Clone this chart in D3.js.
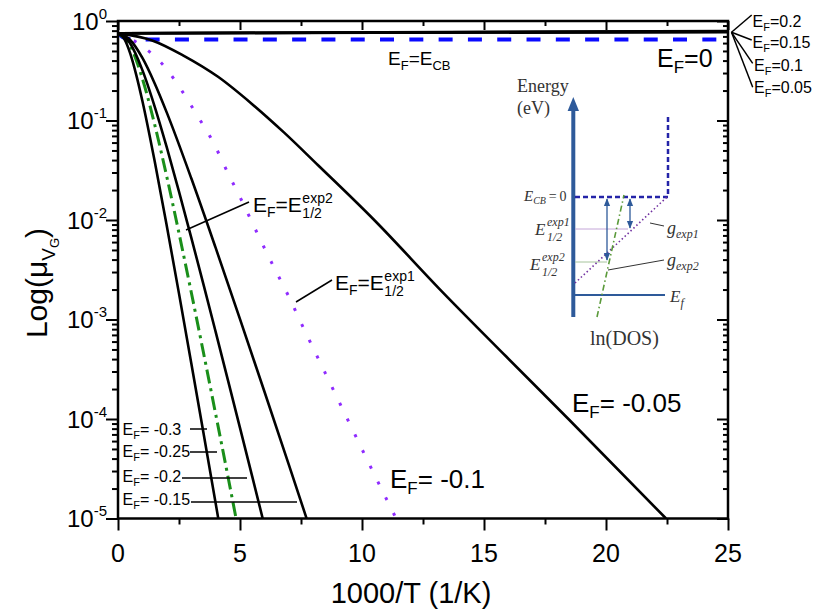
<!DOCTYPE html>
<html><head><meta charset="utf-8">
<script src="https://cdn.jsdelivr.net/npm/d3@7/dist/d3.min.js"></script>
<style>
body{margin:0;background:#fff;}
svg{display:block;font-family:"Liberation Sans",Arial,sans-serif;}
</style>
</head><body>
<svg id="c" width="813" height="614"></svg>
<script>
// ---------- data ----------
const xTickValues = [0, 5, 10, 15, 20, 25];
const xMinorTicks = [2.5, 7.5, 12.5, 17.5, 22.5];
const yTickExponents = [0, -1, -2, -3, -4, -5];

// E_F > 0 : nearly flat
const xFlat = [0, 25];
const muEfPos020 = [0.752, 0.795];
const muEfPos015 = [0.752, 0.787];
const muEfPos010 = [0.752, 0.779];
const muEfPos005 = [0.752, 0.771];

// E_F = E_CB = 0 (blue dashed)
const xEf0 = [0, 0.3, 0.8, 25];
const muEf0 = [0.752, 0.67, 0.65, 0.65];

// E_F = -0.05
const xEfm005 = [0, 1.4, 2.7, 4.1, 5.5, 6.8, 8.2, 10.5, 13.2, 15.9, 18.5, 22.46];
const muEfm005 = [0.752, 0.638, 0.447, 0.275, 0.146, 0.0759, 0.0355, 0.0100, 0.0020, 0.000427, 0.0000977, 0.00001];

// E_F = -0.1 = E_1/2^exp1 (purple dotted)
const xEfm010 = [0, 0.82, 1.91, 2.6, 3.24, 3.89, 4.51, 5.12, 5.74, 6.38, 7.04, 7.65, 8.5, 9.5, 10.53, 11.4];
const muEfm010 = [0.752, 0.597, 0.347, 0.202, 0.113, 0.0611, 0.0295, 0.0148, 0.00708, 0.00339, 0.00162, 0.000776, 0.000288, 0.0000891, 0.0000269, 0.00001];

// E_F = -0.15
const xEfm015 = [0, 0.5, 1, 1.5, 2, 3, 4, 5, 6, 7, 7.73];
const muEfm015 = [0.752, 0.644, 0.425, 0.237, 0.12, 0.0264, 0.00527, 0.00101, 0.000189, 0.0000348, 0.00001];

// E_F = -0.2
const xEfm020 = [0, 0.5, 1, 1.5, 2, 2.5, 3, 3.5, 4, 4.5, 5, 5.5, 5.93];
const muEfm020 = [0.752, 0.594, 0.321, 0.139, 0.0536, 0.0193, 0.0067, 0.00227, 0.000755, 0.000249, 0.0000815, 0.0000265, 0.00001];

// E_F = -0.25 = E_1/2^exp2 (green dash-dot)
const xEfm025 = [0, 0.5, 1, 1.5, 2, 2.5, 3, 3.5, 4, 4.5, 4.84];
const muEfm025 = [0.752, 0.564, 0.263, 0.0918, 0.0272, 0.00736, 0.00189, 0.000468, 0.000113, 0.0000269, 0.00001];

// E_F = -0.3
const xEfm030 = [0, 0.25, 0.5, 0.75, 1, 1.5, 2, 2.5, 3, 3.5, 4.11];
const muEfm030 = [0.752, 0.664, 0.472, 0.286, 0.157, 0.0393, 0.00871, 0.00182, 0.000368, 0.0000731, 0.00001];

const topRightLabels = ["0.2", "0.15", "0.1", "0.05"];
const bottomLeftLabels = ["-0.3", "-0.25", "-0.2", "-0.15"];

// ---------- layout ----------
const L = 118, R = 728, T = 21, B = 518.5;
const svg = d3.select("#c");
const x = d3.scaleLinear().domain([0, 25]).range([L, R]);
const y = d3.scaleLog().domain([1e-5, 1]).range([B, T]);

svg.append("defs").append("clipPath").attr("id", "clip")
  .append("rect").attr("x", L).attr("y", T).attr("width", R - L).attr("height", B - T);

const pairs = (xs, ys) => xs.map((v, i) => [v, ys[i]]);
const line = d3.line().x(d => x(d[0])).y(d => y(d[1])).curve(d3.curveMonotoneX);
const lineLin = d3.line().x(d => x(d[0])).y(d => y(d[1]));

const plot = svg.append("g").attr("clip-path", "url(#clip)");

function draw(xs, ys, opts, gen) {
  plot.append("path").attr("d", (gen || line)(pairs(xs, ys)))
    .attr("fill", "none").attr("stroke", opts.c).attr("stroke-width", opts.w)
    .attr("stroke-dasharray", opts.dash || null)
    .attr("stroke-linecap", opts.cap || "butt");
}

draw(xEf0, muEf0, {c: "#0a0aff", w: 4, dash: "14 15.3"});
draw(xEfm010, muEfm010, {c: "#8f2bff", w: 3, dash: "3 14.5"});
draw(xEfm025, muEfm025, {c: "#1a8f1a", w: 3, dash: "14 5 3 5"});
draw(xEfm005, muEfm005, {c: "#000", w: 2.6});
draw(xEfm015, muEfm015, {c: "#000", w: 2.6});
draw(xEfm020, muEfm020, {c: "#000", w: 2.6});
draw(xEfm030, muEfm030, {c: "#000", w: 2.6});
[muEfPos020, muEfPos015, muEfPos010, muEfPos005].forEach(m => draw(xFlat, m, {c: "#000", w: 2.5}, lineLin));

// ---------- axes ----------
function styleAxis(g) {
  g.select(".domain").remove();
  g.selectAll(".tick line").attr("stroke", "#000").attr("stroke-width", 2);
  g.selectAll(".tick text").remove();
}
const yMinor = [];
for (let e = -5; e < 0; e++) for (let k = 2; k <= 9; k++) yMinor.push(k * Math.pow(10, e));

svg.append("g").attr("transform", `translate(0,${B})`).call(d3.axisBottom(x).tickValues(xTickValues).tickSize(12)).call(styleAxis);
svg.append("g").attr("transform", `translate(0,${B})`).call(d3.axisBottom(x).tickValues(xMinorTicks).tickSize(6)).call(styleAxis);
svg.append("g").attr("transform", `translate(0,${T})`).call(d3.axisTop(x).tickValues(xTickValues).tickSize(-9)).call(styleAxis);
svg.append("g").attr("transform", `translate(0,${T})`).call(d3.axisTop(x).tickValues(xMinorTicks).tickSize(-5)).call(styleAxis);
const yMajor = yTickExponents.map(e => Math.pow(10, e));
svg.append("g").attr("transform", `translate(${L},0)`).call(d3.axisLeft(y).tickValues(yMajor).tickSize(12)).call(styleAxis);
svg.append("g").attr("transform", `translate(${L},0)`).call(d3.axisLeft(y).tickValues(yMinor).tickSize(6)).call(styleAxis);
svg.append("g").attr("transform", `translate(${R},0)`).call(d3.axisRight(y).tickValues(yMajor).tickSize(-11)).call(styleAxis);
svg.append("g").attr("transform", `translate(${R},0)`).call(d3.axisRight(y).tickValues(yMinor).tickSize(-5)).call(styleAxis);

svg.append("rect").attr("x", L).attr("y", T).attr("width", R - L).attr("height", B - T)
  .attr("fill", "none").attr("stroke", "#000").attr("stroke-width", 2.5);

// tick labels
svg.append("g").selectAll("text").data(xTickValues).join("text")
  .attr("x", d => x(d)).attr("y", 562).attr("text-anchor", "middle")
  .attr("font-size", 25).text(d => d);

yTickExponents.forEach(e => {
  const t = svg.append("text").attr("x", 107).attr("y", y(Math.pow(10, e)) + 8.5)
    .attr("text-anchor", "end").attr("font-size", 24);
  t.append("tspan").text("10");
  t.append("tspan").attr("font-size", 15).attr("dy", -11).text(e === 0 ? "0" : "-" + (-e));
});

// axis titles
svg.append("text").attr("x", 411).attr("y", 603).attr("text-anchor", "middle")
  .attr("font-size", 29).text("1000/T (1/K)");
{
  const t = svg.append("text").attr("transform", "translate(47,283) rotate(-90)")
    .attr("text-anchor", "middle").attr("font-size", 30);
  t.append("tspan").text("Log(\u03bc");
  t.append("tspan").attr("font-size", 19).attr("dy", 8).text("V");
  t.append("tspan").attr("font-size", 13).attr("dy", 4).text("G");
  t.append("tspan").attr("dy", -12).text(")");
}

// ---------- rich text helper ----------
function rich(g, xp, yp, size, parts, extra) {
  const t = g.append("text").attr("x", xp).attr("y", yp).attr("font-size", size);
  if (extra) Object.entries(extra).forEach(([k, v]) => t.attr(k, v));
  let shift = 0;
  parts.forEach(p => {
    const off = p.dy || 0;
    const ts = t.append("tspan").attr("dy", off - shift).text(p.t);
    if (p.s) ts.attr("font-size", p.s);
    if (p.it) ts.attr("font-style", "italic");
    shift = off;
  });
  return t;
}
const ann = svg.append("g");

rich(ann, 388, 65, 19, [{t: "E"}, {t: "F", s: 13, dy: 5}, {t: "=E"}, {t: "CB", s: 13, dy: 5}]);
rich(ann, 657, 67, 25, [{t: "E"}, {t: "F", s: 17, dy: 6}, {t: "=0"}]);
rich(ann, 572, 412, 26, [{t: "E"}, {t: "F", s: 17, dy: 6}, {t: "= -0.05"}]);
rich(ann, 390, 488, 26, [{t: "E"}, {t: "F", s: 17, dy: 6}, {t: "= -0.1"}]);

function halfLabel(xp, yp, which) {
  const t = rich(ann, xp, yp, 21, [{t: "E"}, {t: "F", s: 14, dy: 5}, {t: "=E"}]);
  const w = t.node().getComputedTextLength();
  ann.append("text").attr("x", xp + w + 0.5).attr("y", yp - 9).attr("font-size", 14).text(which);
  ann.append("text").attr("x", xp + w + 0.5).attr("y", yp + 6).attr("font-size", 14).text("1/2");
}
halfLabel(253, 212, "exp2");
halfLabel(335, 290, "exp1");

const leaders = [
  [186, 230, 249, 202], [296, 302, 332, 280],
  [731.5, 32.3, 751.7, 15], [731.5, 32.3, 751.7, 40], [731.5, 32.3, 752.7, 63.3], [731.5, 32.3, 752.7, 87.3],
  [190, 429, 207, 429], [190, 452, 217, 452], [182, 478, 247, 478], [191, 502, 297, 502]
];
ann.selectAll("line.ld").data(leaders).join("line").attr("class", "ld")
  .attr("x1", d => d[0]).attr("y1", d => d[1]).attr("x2", d => d[2]).attr("y2", d => d[3])
  .attr("stroke", "#000").attr("stroke-width", 1.5);

const trY = [26.7, 48.3, 70.7, 92.7], trX = [752.5, 752.5, 754, 754];
topRightLabels.forEach((s, i) => rich(ann, trX[i], trY[i], 16, [{t: "E"}, {t: "F", s: 11, dy: 4}, {t: "=" + s}]));
const blY = [435, 457.3, 481.7, 505];
bottomLeftLabels.forEach((s, i) => rich(ann, 122.5, blY[i], 16, [{t: "E"}, {t: "F", s: 11, dy: 4}, {t: "= " + s}]));

// ---------- inset diagram ----------
const ins = svg.append("g").attr("font-family", "'Liberation Serif','DejaVu Serif',serif").attr("fill", "#333");
const axBlue = "#2e5a9a";
const defs = svg.select("defs");
defs.append("marker").attr("id", "ah").attr("viewBox", "0 0 10 10").attr("refX", 9).attr("refY", 5)
  .attr("markerWidth", 6).attr("markerHeight", 6).attr("orient", "auto-start-reverse")
  .append("path").attr("d", "M0,1 L10,5 L0,9 Z").attr("fill", axBlue);

ins.append("text").attr("x", 517).attr("y", 92).attr("font-size", 18).text("Energy");
ins.append("text").attr("x", 517).attr("y", 114).attr("font-size", 18).text("(eV)");
ins.append("line").attr("x1", 573.3).attr("y1", 317).attr("x2", 573.3).attr("y2", 108)
  .attr("stroke", axBlue).attr("stroke-width", 4);
ins.append("path").attr("d", "M573.3,97 L579,111 L567.6,111 Z").attr("fill", axBlue);
ins.append("line").attr("x1", 575).attr("y1", 295).attr("x2", 665).attr("y2", 295)
  .attr("stroke", axBlue).attr("stroke-width", 2);
rich(ins, 670, 302, 17, [{t: "E", it: true}, {t: "f", s: 12, dy: 5, it: true}]);

ins.append("path").attr("d", "M575,197 L668,197 L668,115").attr("fill", "none")
  .attr("stroke", "#2424a8").attr("stroke-width", 2.5).attr("stroke-dasharray", "5 3");
rich(ins, 524, 201, 15, [{t: "E", it: true}, {t: "CB", s: 10, dy: 3, it: true}, {t: "\u2009=\u20090", s: 14}]);

ins.append("line").attr("x1", 575).attr("y1", 229).attr("x2", 628).attr("y2", 229).attr("stroke", "#c4a6d8").attr("stroke-width", 1);
ins.append("line").attr("x1", 575).attr("y1", 262).attr("x2", 607).attr("y2", 262).attr("stroke", "#a6c49c").attr("stroke-width", 1);

ins.append("line").attr("x1", 575).attr("y1", 283).attr("x2", 667).attr("y2", 197)
  .attr("stroke", "#7030a0").attr("stroke-width", 1.6).attr("stroke-dasharray", "1.5 2.5");
ins.append("line").attr("x1", 597).attr("y1", 317).attr("x2", 624).attr("y2", 195)
  .attr("stroke", "#5a9a3a").attr("stroke-width", 1.6).attr("stroke-dasharray", "6 3 1.5 3");

[[607, 199, 260], [630, 199, 228]].forEach(a => ins.append("line")
  .attr("x1", a[0]).attr("y1", a[1]).attr("x2", a[0]).attr("y2", a[2])
  .attr("stroke", axBlue).attr("stroke-width", 1.3)
  .attr("marker-start", "url(#ah)").attr("marker-end", "url(#ah)"));

function insHalf(xp, yp, which) {
  ins.append("text").attr("x", xp).attr("y", yp).attr("font-size", 17).attr("font-style", "italic").text("E");
  ins.append("text").attr("x", xp + 12).attr("y", yp - 9).attr("font-size", 12).attr("font-style", "italic").text(which);
  ins.append("text").attr("x", xp + 12).attr("y", yp + 6).attr("font-size", 12).attr("font-style", "italic").text("1/2");
}
insHalf(535, 235, "exp1");
insHalf(530, 270, "exp2");

rich(ins, 667, 234, 18, [{t: "g", it: true}, {t: "exp1", s: 12, dy: 4, it: true}]);
rich(ins, 667, 266, 18, [{t: "g", it: true}, {t: "exp2", s: 12, dy: 4, it: true}]);
ins.append("line").attr("x1", 650).attr("y1", 223).attr("x2", 664).attr("y2", 226).attr("stroke", "#333").attr("stroke-width", 1);
ins.append("line").attr("x1", 608).attr("y1", 270).attr("x2", 664).attr("y2", 260).attr("stroke", "#333").attr("stroke-width", 1);
ins.append("text").attr("x", 590).attr("y", 345).attr("font-size", 20).text("ln(DOS)");
</script>
</body></html>
